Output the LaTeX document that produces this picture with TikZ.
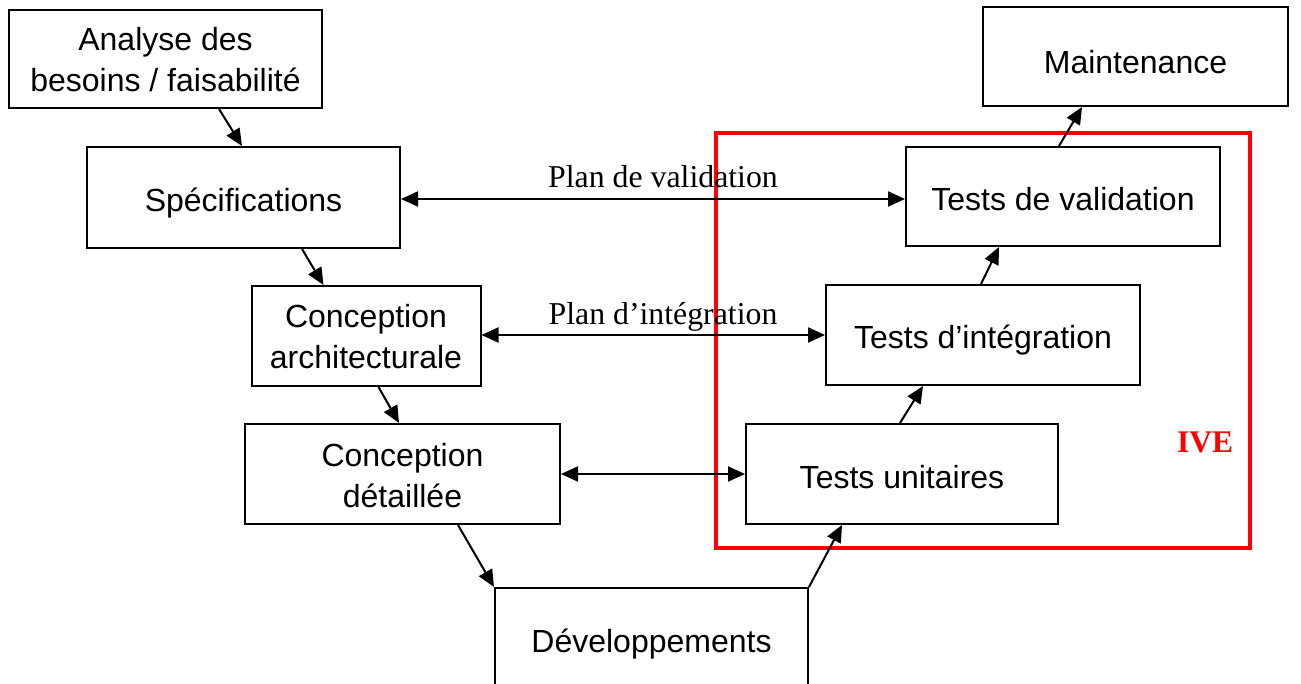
\documentclass[tikz,border=0pt]{standalone}
\usepackage{fontspec}
\setmainfont{Liberation Serif}
\newfontfamily\arialf{Liberation Sans}
\usetikzlibrary{arrows.meta,calc}
\definecolor{ivered}{RGB}{255,0,0}
\begin{document}
\begin{tikzpicture}[x=1pt,y=-1pt,
  box/.style={draw=black,line width=2pt,minimum width=313pt,minimum height=99pt,inner sep=0pt,
    align=center,text height=28pt,text depth=0pt,font=\arialf\fontsize{32}{41}\selectfont},
  twoline/.style={text height=66pt},
  link/.style={line width=2pt,-{Triangle[length=17pt,width=15pt]}},
  dlink/.style={line width=2pt,{Triangle[length=17pt,width=15pt]}-{Triangle[length=17pt,width=15pt]}},
  lbl/.style={font=\fontsize{31.8}{37}\selectfont,anchor=base,inner sep=0pt}]
\clip (0,0) rectangle (1301,684);
\fill[white] (0,0) rectangle (1301,684);
% red frame
\draw[ivered,line width=4pt] (716,133) rectangle (1250,548);
\node[lbl,text=ivered,font=\bfseries\fontsize{31.5}{37}\selectfont] (ive) at (1205,452) {IVE};
% boxes
\node[box,twoline,minimum width=313pt,minimum height=98pt] (an) at (165.5,59) {Analyse des\\besoins / faisabilité};
\node[box,text height=35pt,minimum width=305pt,minimum height=99pt] (mt) at (1135.5,56.5) {Maintenance};
\node[box,minimum width=313pt,minimum height=101pt] (sp) at (243.5,197.5) {Spécifications};
\node[box,minimum width=314pt,minimum height=99pt] (tv) at (1063,196.5) {Tests de validation};
\node[box,twoline,minimum width=229pt,minimum height=100pt] (ca) at (366,336) {Conception\\architecturale};
\node[box,minimum width=314pt,minimum height=100pt] (ti) at (983,335) {Tests d’intégration};
\node[box,twoline,minimum width=315pt,minimum height=100pt] (cd) at (402.5,474) {Conception\\détaillée};
\node[box,minimum width=312pt,minimum height=100pt] (tu) at (902,474) {Tests unitaires};
\node[box,minimum width=313pt,minimum height=101pt] (dv) at (651.5,638.5) {Développements};
% descending arrows
\draw[link] ($(an.south west)+(211,0)$) -- ($(sp.north west)+(156,0)$);
\draw[link] ($(sp.south west)+(216,0)$) -- ($(ca.north west)+(73,0)$);
\draw[link] ($(ca.south west)+(128,0)$) -- ($(cd.north west)+(155,0)$);
\draw[link] ($(cd.south west)+(214,0)$) -- (dv.north west);
% ascending arrows
\draw[link] (dv.north east) -- ($(tu.south west)+(97,0)$);
\draw[link] ($(tu.north west)+(155,0)$) -- ($(ti.south west)+(98,0)$);
\draw[link] ($(ti.north west)+(156,0)$) -- ($(tv.south west)+(94,0)$);
\draw[link] ($(tv.north west)+(154,0)$) -- ($(mt.south west)+(100,0)$);
% horizontal double arrows
\draw[dlink] (sp.east |- 0,199) -- (tv.west |- 0,199);
\draw[dlink] (ca.east |- 0,335) -- (ti.west |- 0,335);
\draw[dlink] (cd.east) -- (tu.west);
\node[lbl] (pv) at (663,188) {Plan de validation};
\node[lbl] (pi) at (663,325) {Plan d’intégration};
\end{tikzpicture}
\end{document}
